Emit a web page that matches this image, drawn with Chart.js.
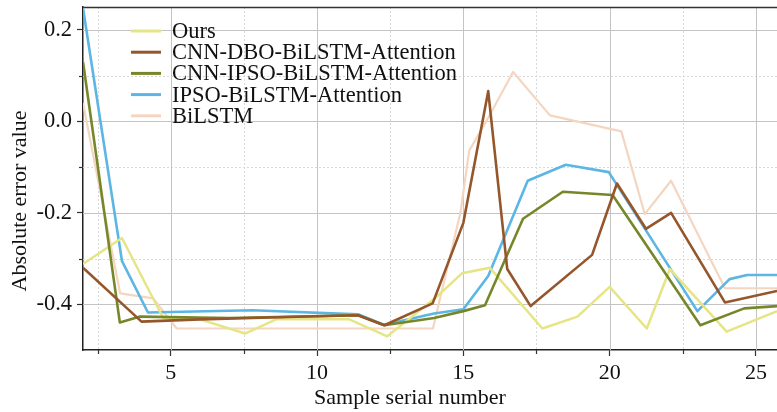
<!DOCTYPE html>
<html>
<head>
<meta charset="utf-8">
<script src="https://cdn.jsdelivr.net/npm/chart.js@4.4.1/dist/chart.umd.min.js"></script>
<style>
  html, body { margin: 0; padding: 0; background: #ffffff; }
  #wrap { width: 777px; height: 412px; }
  canvas { display: block; }
</style>
</head>
<body>
<div id="wrap"><canvas id="c" width="777" height="412"></canvas></div>
<script>
// ---- data ----
const seriesNames = ['Ours', 'CNN-DBO-BiLSTM-Attention', 'CNN-IPSO-BiLSTM-Attention', 'IPSO-BiLSTM-Attention', 'BiLSTM'];

const oursX = [2, 3.33, 4.74, 6.0, 7.54, 8.6, 11.1, 12.4, 14.03, 14.96, 15.9, 17.7, 18.9, 20.0, 21.27, 22.06, 24.0, 25.72];
const oursY = [-0.312, -0.255, -0.43, -0.433, -0.464, -0.433, -0.433, -0.47, -0.387, -0.332, -0.32, -0.453, -0.427, -0.362, -0.453, -0.323, -0.46, -0.415];

const dboX = [2, 4.0, 6.0, 9.0, 11.4, 12.3, 13.95, 15.0, 15.85, 16.5, 17.3, 19.4, 20.25, 21.24, 22.1, 23.94, 25.72];
const dboY = [-0.32, -0.438, -0.433, -0.428, -0.424, -0.446, -0.398, -0.222, 0.066, -0.323, -0.404, -0.292, -0.136, -0.235, -0.2, -0.396, -0.371];

const ipsoCnnX = [2, 3.26, 3.95, 7.0, 11.4, 12.3, 14.0, 15.0, 15.74, 17.04, 18.4, 20.1, 23.1, 24.6, 25.72];
const ipsoCnnY = [0.13, -0.44, -0.427, -0.43, -0.424, -0.446, -0.43, -0.415, -0.402, -0.213, -0.154, -0.161, -0.446, -0.409, -0.404];

const ipsoX = [2, 3.33, 4.22, 7.8, 11.4, 12.3, 14.0, 15.0, 15.85, 17.2, 18.5, 19.97, 23.0, 24.1, 24.7, 25.72];
const ipsoY = [0.248, -0.305, -0.418, -0.413, -0.422, -0.445, -0.42, -0.411, -0.338, -0.13, -0.095, -0.111, -0.415, -0.345, -0.336, -0.336];

const bilstmX = [2, 3.27, 4.4, 5.2, 13.96, 14.9, 15.2, 15.8, 16.7, 17.96, 20.4, 21.2, 22.1, 23.94, 25.72];
const bilstmY = [0.04, -0.376, -0.387, -0.453, -0.453, -0.2, -0.064, 0.002, 0.108, 0.013, -0.022, -0.203, -0.13, -0.365, -0.365];

const xTicks = [5, 10, 15, 20, 25];
const xMinorTicks = [2.5, 7.5, 12.5, 17.5, 22.5];
const yTicks = [-0.4, -0.2, 0.0, 0.2];
const yMinorTicks = [-0.3, -0.1, 0.1];
const xTitle = 'Sample serial number';
const yTitle = 'Absolute error value';

// ---- styles ----
const colors = ['#e6e585', '#94562a', '#76872a', '#5cb6e3', '#f4d6c0'];
const widths = [2.5, 2.6, 2.6, 2.6, 2.2];
const drawOrder = [2, 0, 1, 3, 4];
const FONT = '"Liberation Serif", "Times New Roman", serif';

function pts(xs, ys) { return xs.map((x, i) => ({ x: x, y: ys[i] })); }
const allX = [oursX, dboX, ipsoCnnX, ipsoX, bilstmX];
const allY = [oursY, dboY, ipsoCnnY, ipsoY, bilstmY];

const datasets = seriesNames.map((name, i) => ({
  label: name,
  data: pts(allX[i], allY[i]),
  borderColor: colors[i],
  backgroundColor: colors[i],
  borderWidth: widths[i],
  pointRadius: 0,
  tension: 0,
  fill: false,
  order: drawOrder[i],
  borderJoinStyle: 'round'
}));

const gridPlugin = {
  id: 'gridPlugin',
  beforeDatasetsDraw(chart) {
    const { ctx, chartArea: a, scales: { x, y } } = chart;
    ctx.save();
    ctx.strokeStyle = '#d9d9d9';
    ctx.lineWidth = 1;
    ctx.setLineDash([2, 2]);
    xMinorTicks.forEach(v => {
      const px = Math.round(x.getPixelForValue(v)) + 0.5;
      ctx.beginPath(); ctx.moveTo(px, a.top); ctx.lineTo(px, a.bottom); ctx.stroke();
    });
    yMinorTicks.forEach(v => {
      const py = Math.round(y.getPixelForValue(v)) + 0.5;
      ctx.beginPath(); ctx.moveTo(a.left, py); ctx.lineTo(a.right, py); ctx.stroke();
    });
    ctx.setLineDash([]);
    ctx.strokeStyle = '#c4c4c4';
    xTicks.forEach(v => {
      const px = Math.round(x.getPixelForValue(v)) + 0.5;
      ctx.beginPath(); ctx.moveTo(px, a.top); ctx.lineTo(px, a.bottom); ctx.stroke();
    });
    yTicks.forEach(v => {
      const py = Math.round(y.getPixelForValue(v)) + 0.5;
      ctx.beginPath(); ctx.moveTo(a.left, py); ctx.lineTo(a.right, py); ctx.stroke();
    });
    ctx.strokeStyle = '#333';
    ctx.lineWidth = 1.2;
    xMinorTicks.forEach(v => {
      const px = Math.round(x.getPixelForValue(v)) + 0.5;
      ctx.beginPath(); ctx.moveTo(px, a.bottom); ctx.lineTo(px, a.bottom + 4); ctx.stroke();
    });
    yMinorTicks.forEach(v => {
      const py = Math.round(y.getPixelForValue(v)) + 0.5;
      ctx.beginPath(); ctx.moveTo(a.left - 4, py); ctx.lineTo(a.left, py); ctx.stroke();
    });
    ctx.strokeStyle = '#333';
    ctx.lineWidth = 1.5;
    ctx.beginPath(); ctx.moveTo(a.left, a.top + 0.5); ctx.lineTo(a.right, a.top + 0.5); ctx.stroke();

    // axis titles
    ctx.fillStyle = '#111';
    ctx.font = '22px ' + FONT;
    ctx.textAlign = 'center';
    ctx.textBaseline = 'alphabetic';
    ctx.fillText(xTitle, 410, 404);
    ctx.translate(26, 201);
    ctx.rotate(-Math.PI / 2);
    ctx.fillText(yTitle, 0, 0);
    ctx.restore();
  }
};

const legendPlugin = {
  id: 'legendPlugin',
  afterDatasetsDraw(chart) {
    const { ctx } = chart;
    ctx.save();
    ctx.font = '22.5px ' + FONT;
    ctx.textBaseline = 'middle';
    ctx.textAlign = 'left';
    seriesNames.forEach((name, i) => {
      const yy = 31 + i * 21.2;
      ctx.strokeStyle = colors[i];
      ctx.lineWidth = 3;
      ctx.beginPath(); ctx.moveTo(131, yy); ctx.lineTo(161, yy); ctx.stroke();
      ctx.fillStyle = '#111';
      ctx.fillText(name, 172, yy + 1);
    });
    ctx.restore();
  }
};

new Chart(document.getElementById('c'), {
  type: 'line',
  data: { datasets: datasets },
  options: {
    responsive: false,
    animation: false,
    layout: { padding: { top: 7, right: 0, left: 0, bottom: 0 } },
    plugins: { legend: { display: false }, tooltip: { enabled: false } },
    scales: {
      x: {
        type: 'linear',
        min: 2,
        max: 25.72,
        afterBuildTicks: s => { s.ticks = xTicks.map(v => ({ value: v })); },
        afterFit: s => { s.height = 62; s.paddingLeft = 0; s.paddingRight = 0; },
        grid: { drawOnChartArea: false, drawTicks: true, tickLength: 6, tickColor: '#333', tickWidth: 1.2 },
        border: { display: true, color: '#222', width: 1.5 },
        ticks: { font: { family: FONT, size: 22 }, color: '#111', padding: 4, maxRotation: 0, autoSkip: false, callback: v => String(v) },
        title: { display: false }
      },
      y: {
        type: 'linear',
        min: -0.5,
        max: 0.25,
        afterBuildTicks: s => { s.ticks = yTicks.map(v => ({ value: v })); },
        afterFit: s => { s.width = 83; s.paddingTop = 0; s.paddingBottom = 0; },
        grid: { drawOnChartArea: false, drawTicks: true, tickLength: 6, tickColor: '#333', tickWidth: 1.2 },
        border: { display: true, color: '#222', width: 1.5 },
        ticks: { font: { family: FONT, size: 22.5 }, color: '#111', padding: 5, autoSkip: false, callback: v => Number(v).toFixed(1) },
        title: { display: false }
      }
    }
  },
  plugins: [gridPlugin, legendPlugin]
});
</script>
</body>
</html>
